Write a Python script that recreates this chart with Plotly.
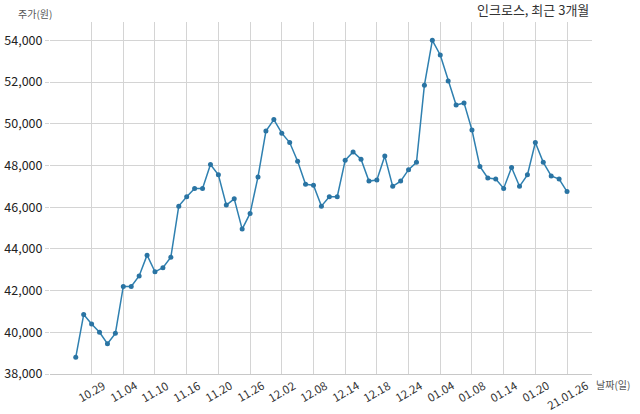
import plotly.graph_objects as go

# trading days, 2020-10-27 .. 2021-01-26
dates = [
    '2020-10-27', '2020-10-28', '2020-10-29', '2020-10-30', '2020-11-02', '2020-11-03', '2020-11-04',
    '2020-11-05', '2020-11-06', '2020-11-09', '2020-11-10', '2020-11-11', '2020-11-12', '2020-11-13',
    '2020-11-16', '2020-11-17', '2020-11-18', '2020-11-19', '2020-11-20', '2020-11-23', '2020-11-24',
    '2020-11-25', '2020-11-26', '2020-11-27', '2020-11-30', '2020-12-01', '2020-12-02', '2020-12-03',
    '2020-12-04', '2020-12-07', '2020-12-08', '2020-12-09', '2020-12-10', '2020-12-11', '2020-12-14',
    '2020-12-15', '2020-12-16', '2020-12-17', '2020-12-18', '2020-12-21', '2020-12-22', '2020-12-23',
    '2020-12-24', '2020-12-28', '2020-12-29', '2020-12-30', '2021-01-04', '2021-01-05', '2021-01-06',
    '2021-01-07', '2021-01-08', '2021-01-11', '2021-01-12', '2021-01-13', '2021-01-14', '2021-01-15',
    '2021-01-18', '2021-01-19', '2021-01-20', '2021-01-21', '2021-01-22', '2021-01-25', '2021-01-26',
]

prices = [
    38800, 40850, 40400, 40000, 39450, 39950, 42200, 42200, 42700, 43700,
    42900, 43100, 43600, 46050, 46500, 46900, 46900, 48050, 47550, 46100,
    46400, 44950, 45700, 47450, 49650, 50200, 49550, 49100, 48200, 47100,
    47050, 46050, 46500, 46500, 48250, 48650, 48300, 47250, 47300, 48450,
    47000, 47250, 47800, 48150, 51850, 54000, 53300, 52050, 50900, 51000,
    49700, 47950, 47400, 47350, 46900, 47900, 47000, 47550, 49100, 48150,
    47500, 47350, 46750,
]

tick_dates = dates[2::4]
tick_text = [d[5:].replace('-', '.') for d in tick_dates]
tick_text[-1] = '21.01.26'

y_ticks = list(range(38000, 54001, 2000))

font_kr = 'Noto Sans CJK KR, Noto Sans, sans-serif'

fig = go.Figure()
fig.add_trace(
    go.Scatter(
        x=dates,
        y=prices,
        mode='lines+markers',
        line=dict(color='#2f80b0', width=1.5),
        marker=dict(color='#2a74a3', size=5),
        showlegend=False,
    )
)

annotations = [
    dict(text='인크로스, 최근 3개월', xref='paper', yref='paper', x=1.0, y=1.0,
         xanchor='right', yanchor='bottom', xshift=-1, yshift=1, showarrow=False,
         font=dict(size=13, color='#333333')),
    dict(text='주가(원)', xref='paper', yref='paper', x=0, y=1.0,
         xanchor='right', yanchor='bottom', xshift=4, yshift=-1, showarrow=False,
         font=dict(size=10, color='#555555')),
    dict(text='날짜(일)', xref='paper', yref='paper', x=1.0, y=0,
         xanchor='left', yanchor='top', xshift=2, yshift=-1, showarrow=False,
         font=dict(size=10, color='#555555')),
]
# rotated date labels centred under their grid lines
for d, t in zip(tick_dates, tick_text):
    annotations.append(
        dict(text=t, xref='x', yref='paper', x=d, y=0, xanchor='center', yanchor='top',
             textangle=-30, yshift=0, showarrow=False,
             font=dict(size=11.5, color='#333333'))
    )

fig.update_layout(
    width=640,
    height=414,
    plot_bgcolor='white',
    paper_bgcolor='white',
    font=dict(family=font_kr, size=12, color='#333333'),
    margin=dict(l=50, r=48, t=22, b=40, pad=0),
    xaxis=dict(
        type='category',
        range=[-3.25, 65.15],
        tickmode='array',
        tickvals=tick_dates,
        showticklabels=False,
        showgrid=True,
        gridcolor='#d4d4d4',
        gridwidth=1,
        showline=True,
        linecolor='#c8c8c8',
        linewidth=1,
        ticks='',
        zeroline=False,
        automargin=False,
    ),
    yaxis=dict(
        range=[38000, 54880],
        tickmode='array',
        tickvals=y_ticks,
        ticktext=[f'{v:,}' for v in y_ticks],
        tickfont=dict(size=12.5, color='#222222'),
        showgrid=True,
        gridcolor='#d4d4d4',
        gridwidth=1,
        showline=False,
        zeroline=False,
        ticks='outside',
        ticklen=4,
        tickcolor='#d4d4d4',
        automargin=False,
    ),
    annotations=annotations,
)

fig.write_html('out.html', config={'displayModeBar': False},
               post_script="document.body.style.margin='0';")
